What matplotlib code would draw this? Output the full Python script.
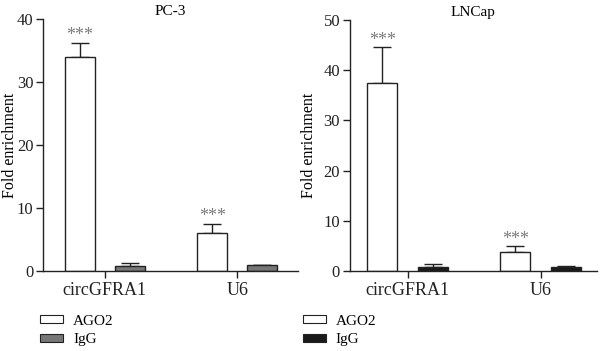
import matplotlib
matplotlib.use("Agg")
import matplotlib.pyplot as plt
from matplotlib.patches import Patch
import numpy as np

plt.rcParams['font.family'] = ['Liberation Serif', 'DejaVu Serif']

categories = ["circGFRA1", "U6"]
series = ["AGO2", "IgG"]
pc3_ago2 = [34.0, 6.0]
pc3_ago2_err = [2.2, 1.5]
pc3_igg = [0.8, 0.9]
pc3_igg_err = [0.5, 0.1]
lncap_ago2 = [37.4, 3.7]
lncap_ago2_err = [7.2, 1.2]
lncap_igg = [0.7, 0.8]
lncap_igg_err = [0.6, 0.2]
sig = ["***", "***"]

fig = plt.figure(figsize=(6.0, 3.51), dpi=100)

def panel(rect, title, ago2, ago2e, igg, igge, ymax, yticks, xlim, igg_color, offs, ylab_x):
    ax = fig.add_axes(rect)
    x = np.arange(len(categories))
    w = 0.226
    ax.bar(x + offs[0], ago2, w, color="white", edgecolor="#222222", linewidth=1.0, zorder=2)
    ax.bar(x + offs[1], igg, w, color=igg_color, edgecolor="#222222", linewidth=1.0, zorder=2)
    ax.errorbar(x + offs[0], ago2, yerr=[np.zeros(len(ago2)), ago2e], fmt='none',
                ecolor="#222222", elinewidth=1.0, capsize=6.5, capthick=1.0, zorder=1)
    ax.errorbar(x + offs[1], igg, yerr=[np.zeros(len(igg)), igge], fmt='none',
                ecolor="#222222", elinewidth=1.0, capsize=6.5, capthick=1.0, zorder=1)
    for xi, v, e, s in zip(x, ago2, ago2e, sig):
        ax.annotate(s, (xi + offs[0], v + e), xytext=(0, -1), textcoords='offset points',
                    ha='center', va='bottom', color="#7a7a7a", fontsize=13)
    ax.set_ylim(0, ymax)
    ax.set_yticks(yticks)
    ax.set_xlim(*xlim)
    ax.set_xticks(x)
    ax.set_xticklabels(categories)
    for sp in ["top", "right"]:
        ax.spines[sp].set_visible(False)
    for sp in ["left", "bottom"]:
        ax.spines[sp].set_linewidth(1.0)
        ax.spines[sp].set_color("#222222")
    ax.tick_params(axis='both', labelsize=12, length=5, width=1.0, colors="#222222",
                   direction='out', pad=2)
    ax.tick_params(axis='x', labelsize=13, pad=3)
    ax.set_ylabel("Fold enrichment", fontsize=11.5)
    ax.yaxis.set_label_coords(ylab_x, 0.5)
    ax.set_title(title, fontsize=11, pad=3)
    return ax

ax1 = panel([0.0717, 0.228, 0.425, 0.718], "PC-3", pc3_ago2, pc3_ago2_err, pc3_igg, pc3_igg_err,
            40, [0, 10, 20, 30, 40], (-0.466, 1.459), "#777777", (-0.188, 0.188), -0.098)
ax2 = panel([0.583, 0.228, 0.412, 0.715], "LNCap", lncap_ago2, lncap_ago2_err, lncap_igg, lncap_igg_err,
            50, [0, 10, 20, 30, 40, 50], (-0.436, 1.421), "#1a1a1a", (-0.192, 0.188), -0.134)

for xpos, col in [(0.067, "#777777"), (0.505, "#1a1a1a")]:
    handles = [Patch(facecolor="white", edgecolor="#222222", linewidth=0.8),
               Patch(facecolor=col, edgecolor="#222222", linewidth=0.8)]
    fig.legend(handles, series, loc='upper left', bbox_to_anchor=(xpos, 0.103),
               frameon=False, fontsize=11, handlelength=1.5, handleheight=0.42,
               handletextpad=0.65, labelspacing=0.35, borderpad=0, borderaxespad=0)

fig.savefig("out.png", dpi=100)
